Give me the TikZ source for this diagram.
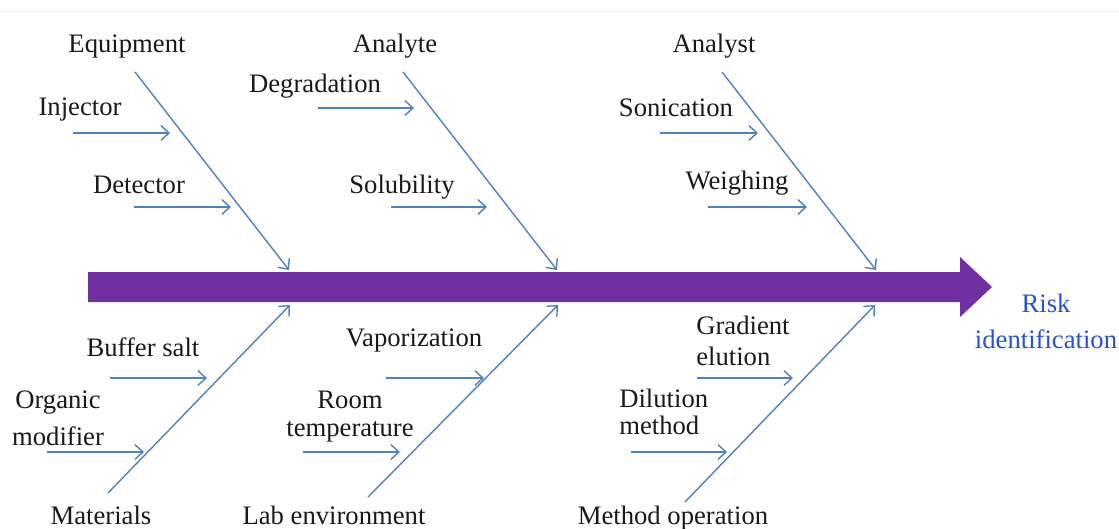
\documentclass[tikz,border=0pt]{standalone}
\usepackage{fontspec}
\setmainfont{Liberation Serif}
\usetikzlibrary{arrows.meta}
\definecolor{bonecol}{RGB}{79,129,189}
\definecolor{spinecol}{RGB}{112,48,160}
\definecolor{riskcol}{RGB}{40,80,210}
\definecolor{txtcol}{RGB}{25,25,25}
\definecolor{rulecol}{RGB}{232,236,241}
\begin{document}
\begin{tikzpicture}[x=0.75pt, y=-0.75pt, >={Straight Barb[length=6pt,width=11pt]},
    bone/.style={draw=bonecol, line width=1.05pt, ->},
    lbl/.style={inner sep=0pt, anchor=base, text=txtcol, font=\fontsize{20}{24}\selectfont}]
    \useasboundingbox (0,0) rectangle (1119,528);
    \draw[rulecol, line width=0.75pt] (0,12) -- (1119,12);
    % main spine
    \fill[spinecol] (88,272) -- (960,272) -- (960,257) -- (992,287) -- (960,317) -- (960,302) -- (88,302) -- cycle;
    \node[lbl, text=riskcol, align=center, font=\fontsize{20}{26.5}\selectfont] (risk) at (1046,348) {Risk\\identification};
    % main causes
    \node[lbl] (equip) at (127,53) {Equipment};
    \node[lbl] (analyte) at (395,53) {Analyte};
    \node[lbl] (analyst) at (714,53) {Analyst};
    \node[lbl] (mater) at (101,524) {Materials};
    \node[lbl] (lab) at (334,524) {Lab environment};
    \node[lbl] (method) at (673,524) {Method operation};
    \coordinate (e1) at (135,72);  \coordinate (e2) at (289,270);
    \coordinate (a1) at (403,72);  \coordinate (a2) at (557,270);
    \coordinate (n1) at (722,72);  \coordinate (n2) at (876,270);
    \coordinate (m1) at (108,493); \coordinate (m2) at (290,305);
    \coordinate (l1) at (368,497); \coordinate (l2) at (558,305);
    \coordinate (o1) at (685,502); \coordinate (o2) at (875,305);
    \foreach \s/\t in {e1/e2, a1/a2, n1/n2, m1/m2, l1/l2, o1/o2}
    {
        \draw[bone] (\s) -- (\t);
    }
    % sub causes
    \node[lbl] (inj) at (80,115) {Injector};
    \node[lbl] (det) at (139,193) {Detector};
    \node[lbl] (degr) at (315,92) {Degradation};
    \node[lbl] (sol) at (402,193) {Solubility};
    \node[lbl] (son) at (676,116) {Sonication};
    \node[lbl] (weigh) at (737,189) {Weighing};
    \node[lbl] (buf) at (143,356) {Buffer salt};
    \node[lbl, align=center, font=\fontsize{20}{27.75}\selectfont] (org) at (58,445) {Organic\\modifier};
    \node[lbl] (vap) at (414,346) {Vaporization};
    \node[lbl, align=center, font=\fontsize{20}{21}\selectfont] (room) at (350,436) {Room\\temperature};
    \node[lbl, anchor=base west, align=left, font=\fontsize{20}{23.25}\selectfont] (grad) at (696,365) {Gradient\\elution};
    \node[lbl, anchor=base west, align=left, font=\fontsize{20}{20.25}\selectfont] (dil) at (619,434) {Dilution\\method};
    \coordinate (inj1) at (73,133);    \coordinate (inj2) at (170,133);
    \coordinate (det1) at (134,207);   \coordinate (det2) at (231,207);
    \coordinate (degr1) at (318,108);  \coordinate (degr2) at (414,108);
    \coordinate (sol1) at (391,207);   \coordinate (sol2) at (487,207);
    \coordinate (son1) at (660,133);   \coordinate (son2) at (758,133);
    \coordinate (weigh1) at (708,207); \coordinate (weigh2) at (807,207);
    \coordinate (buf1) at (110,378);   \coordinate (buf2) at (207,378);
    \coordinate (org1) at (47,452);    \coordinate (org2) at (144,452);
    \coordinate (vap1) at (386,378);   \coordinate (vap2) at (484,378);
    \coordinate (room1) at (303,452);  \coordinate (room2) at (400,452);
    \coordinate (grad1) at (697,378);  \coordinate (grad2) at (793,378);
    \coordinate (dil1) at (631,452);   \coordinate (dil2) at (727,452);
    \foreach \c in {inj, det, degr, sol, son, weigh, buf, org, vap, room, grad, dil}
    {
        \draw[bone] (\c1) -- (\c2);
    }
\end{tikzpicture}
\end{document}
